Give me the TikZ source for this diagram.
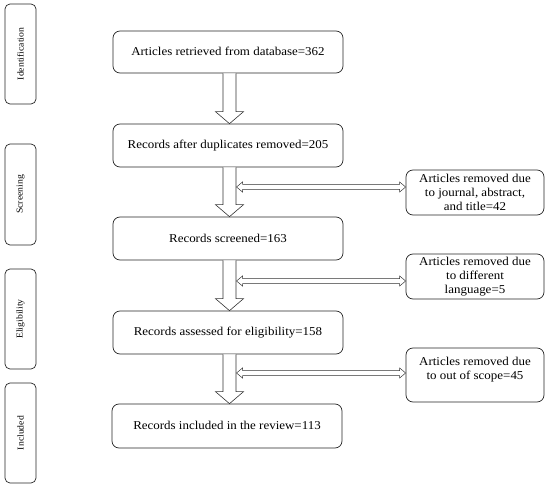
\documentclass[tikz,border=0pt]{standalone}
\usepackage{fontspec}
\setmainfont{Liberation Serif}[FakeStretch=1.08]
\usetikzlibrary{calc}
\begin{document}
\begin{tikzpicture}[x=1pt,y=-1pt,
  mainbox/.style={draw=black!85,line width=0.7pt,rounded corners=7pt,minimum width=230pt,minimum height=43pt,inner sep=0pt,font=\fontsize{12}{14}\selectfont},
  sidebox/.style={draw=black!85,line width=0.7pt,rounded corners=7pt,minimum width=138pt,minimum height=45pt,inner sep=0pt,align=center,font=\fontsize{12}{14}\selectfont},
  stagebox/.style={draw=black!85,line width=0.7pt,rounded corners=5pt,minimum width=31pt,minimum height=100pt,inner sep=0pt},
  stagetext/.style={rotate=90,font=\fontsize{9}{10}\selectfont},
  hollow/.style={draw=black!80,line width=0.6pt,fill=white,line join=miter},
  thinarrow/.style={draw=black!80,line width=0.5pt,fill=white}]
\useasboundingbox (0,0) rectangle (550,487);
% stage boxes
\node[stagebox] (s1) at (20.5,54) {};
\node[stagetext] (s1t) at (s1) {Identification};
\node[stagebox,minimum height=101pt] (s2) at (20.5,194.5) {};
\node[stagetext] (s2t) at (s2) {Screening};
\node[stagebox] (s3) at (20.5,319) {};
\node[stagetext] (s3t) at (s3) {Eligibility};
\node[stagebox] (s4) at (20.5,433) {};
\node[stagetext] (s4t) at (s4) {Included};
% main boxes
\node[mainbox,minimum height=42pt] (b1) at (228,52) {\raisebox{2pt}{Articles retrieved from database=362}};
\node[mainbox] (b2) at (228,145.5) {\raisebox{2pt}{Records after duplicates removed=205}};
\node[mainbox] (b3) at (228,238.5) {\raisebox{1pt}{Records screened=163}};
\node[mainbox] (b4) at (228,332.5) {\raisebox{1pt}{Records assessed for eligibility=158}};
\node[mainbox,minimum height=44pt] (b5) at (227,426) {\raisebox{2pt}{Records included in the review=113}};
% side boxes
\node[sidebox] (r1) at (475,192.5) {Articles removed due\\to journal, abstract,\\and title=42};
\node[sidebox] (r2) at (475,276.5) {Articles removed due\\to different\\language=5};
\node[sidebox,minimum height=54pt] (r3) at (475,375) {};
\node[align=center,font=\fontsize{12}{13.5}\selectfont,anchor=north] (r3t) at (475,354) {Articles removed due\\to out of scope=45};
% big hollow arrows
\newcommand\bigarrow[2]{%
  \draw[hollow] let \p1=(#1.south), \p2=(#2.north) in
    (\x1+1.5pt-6.5pt,\y1) -- (\x1+1.5pt-6.5pt,\y2+12pt) -- (\x1+1.5pt-14pt,\y2+12pt)
    -- (\x1+1.5pt,\y2) -- (\x1+1.5pt+14pt,\y2+12pt) -- (\x1+1.5pt+6.5pt,\y2+12pt)
    -- (\x1+1.5pt+6.5pt,\y1);}
\bigarrow{b1}{b2}
\bigarrow{b2}{b3}
\bigarrow{b3}{b4}
\bigarrow{b4}{b5}
% double arrows
\newcommand\dblarrow[2]{%
  \draw[thinarrow] let \p1=(#1), \p2=(#2) in
    (\x1,\y1) -- (\x1+6pt,\y1+5pt) -- (\x1+6pt,\y1+2.5pt) -- (\x2-6pt,\y1+2.5pt)
    -- (\x2-6pt,\y1+5pt) -- (\x2,\y1) -- (\x2-6pt,\y1-5pt) -- (\x2-6pt,\y1-2.5pt)
    -- (\x1+6pt,\y1-2.5pt) -- (\x1+6pt,\y1-5pt) -- cycle;}
\coordinate (d1) at (236.5,187);
\coordinate (d2) at (236.5,281);
\coordinate (d3) at (236.5,373);
\dblarrow{d1}{d1 -| r1.west}
\dblarrow{d2}{d2 -| r2.west}
\dblarrow{d3}{d3 -| r3.west}
\end{tikzpicture}
\end{document}
